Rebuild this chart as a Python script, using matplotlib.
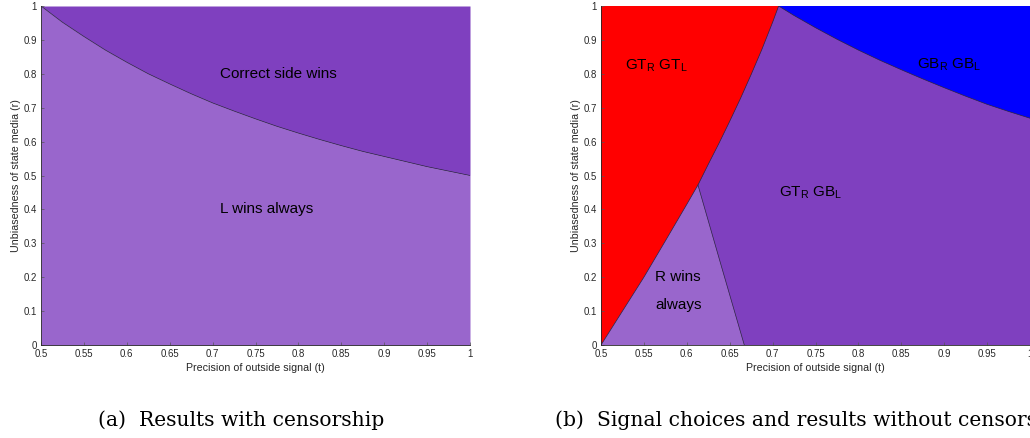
import numpy as np
import matplotlib
matplotlib.use("Agg")
import matplotlib.pyplot as plt

# boundary between the two outcomes with censorship (t, r)
t_cens = [0.5, 0.525, 0.55, 0.575, 0.6, 0.625, 0.65, 0.675, 0.7, 0.725, 0.75,
          0.775, 0.8, 0.825, 0.85, 0.875, 0.9, 0.925, 0.95, 0.975, 1.0]
r_cens = [1.0, 0.952, 0.91, 0.87, 0.834, 0.8, 0.77, 0.741, 0.714, 0.69, 0.667,
          0.645, 0.625, 0.606, 0.588, 0.571, 0.556, 0.541, 0.526, 0.513, 0.5]

# without censorship: edge of the GT_R GT_L region
t_red = [0.5, 0.525, 0.55, 0.575, 0.6, 0.613, 0.625, 0.6375, 0.65, 0.6625, 0.675,
         0.6875, 0.7, 0.707]
r_red = [0.0, 0.10, 0.20, 0.307, 0.415, 0.472, 0.533, 0.595, 0.66, 0.727, 0.798,
         0.872, 0.952, 1.0]

# edge of the GB_R GB_L region
t_blue = [0.707, 0.725, 0.75, 0.775, 0.8, 0.825, 0.85, 0.875, 0.9, 0.925, 0.95, 0.975, 1.0]
r_blue = [1.0, 0.972, 0.936, 0.902, 0.870, 0.840, 0.812, 0.785, 0.759, 0.734, 0.71, 0.689, 0.669]

# right edge of the "R wins always" wedge
t_rwin = [0.613, 0.64, 0.667]
r_rwin = [0.472, 0.235, 0.0]

xticks = [0.5, 0.55, 0.6, 0.65, 0.7, 0.75, 0.8, 0.85, 0.9, 0.95, 1.0]
xtick_labels = ['0.5', '0.55', '0.6', '0.65', '0.7', '0.75', '0.8', '0.85', '0.9', '0.95', '1']
yticks = [0, 0.1, 0.2, 0.3, 0.4, 0.5, 0.6, 0.7, 0.8, 0.9, 1.0]
ytick_labels = ['0', '0.1', '0.2', '0.3', '0.4', '0.5', '0.6', '0.7', '0.8', '0.9', '1']

light_purple = '#9966cc'
dark_purple = '#7f40bf'
edge = '#2b2440'

plt.rcParams['font.family'] = ['Liberation Sans', 'DejaVu Sans']
plt.rcParams['mathtext.fontset'] = 'custom'
plt.rcParams['mathtext.rm'] = 'Liberation Sans'

fig = plt.figure(figsize=(10.3, 4.38), dpi=100)
ax1 = fig.add_axes([41/1030, 93/438, 429/1030, 339/438])
ax2 = fig.add_axes([601/1030, 93/438, 429/1030, 339/438])

for ax in (ax1, ax2):
    ax.set_xlim(0.5, 1)
    ax.set_ylim(0, 1)
    ax.set_xticks(xticks)
    ax.set_xticklabels(xtick_labels)
    ax.set_yticks(yticks)
    ax.set_yticklabels(ytick_labels)
    ax.tick_params(direction='in', length=2.5, width=0.5, color='#555555',
                   labelsize=6.9, labelcolor='#262626', pad=3)
    ax.spines['top'].set_visible(False)
    ax.spines['right'].set_visible(False)
    for s in ('left', 'bottom'):
        ax.spines[s].set_linewidth(0.6)
        ax.spines[s].set_color('#262626')
    ax.set_xlabel('Precision of outside signal (t)', fontsize=7.7, color='#262626', labelpad=3)
    ax.set_ylabel('Unbiasedness of state media (r)', fontsize=7.7, color='#262626', labelpad=2)

# (a) with censorship
ax1.fill_between(t_cens, 0, r_cens, color=light_purple, lw=0)
ax1.fill_between(t_cens, r_cens, 1, color=dark_purple, lw=0)
ax1.plot(t_cens, r_cens, color=edge, lw=0.5)
ax1.text(0.709, 0.80, 'Correct side wins', fontsize=11, va='center', ha='left')
ax1.text(0.709, 0.40, 'L wins always', fontsize=11, va='center', ha='left')

# (b) without censorship
ax2.axhspan(0, 1, color=dark_purple, lw=0)
red_x = [0.5] + t_red + [0.5]
red_y = [1.0] + r_red + [1.0]
ax2.fill(red_x, red_y, color='#ff0000', lw=0)
blue_x = t_blue + [1.0]
blue_y = r_blue + [1.0]
ax2.fill(blue_x, blue_y, color='#0000ff', lw=0)
n_wedge = t_red.index(0.613) + 1
wedge_x = t_red[:n_wedge] + t_rwin[1:]
wedge_y = r_red[:n_wedge] + r_rwin[1:]
ax2.fill(wedge_x, wedge_y, color=light_purple, lw=0)
ax2.plot(t_red, r_red, color=edge, lw=0.5)
ax2.plot(t_blue, r_blue, color=edge, lw=0.5)
ax2.plot(t_rwin, r_rwin, color=edge, lw=0.5)

ax2.text(0.528, 0.823, r'GT$_\mathregular{R}$ GT$_\mathregular{L}$', fontsize=11, va='center', ha='left')
ax2.text(0.868, 0.826, r'GB$_\mathregular{R}$ GB$_\mathregular{L}$', fontsize=11, va='center', ha='left')
ax2.text(0.708, 0.450, r'GT$_\mathregular{R}$ GB$_\mathregular{L}$', fontsize=11, va='center', ha='left')
ax2.text(0.563, 0.20, 'R wins', fontsize=11, va='center', ha='left')
ax2.text(0.563, 0.118, 'always', fontsize=11, va='center', ha='left')

fig.text(98/1030, 1 - 426/438, '(a)  Results with censorship', family='DejaVu Serif',
         fontsize=14.6, ha='left', va='baseline')
fig.text(555/1030, 1 - 426/438, '(b)  Signal choices and results without censorship',
         family='DejaVu Serif', fontsize=14.6, ha='left', va='baseline')

fig.savefig('out.png', dpi=100)
